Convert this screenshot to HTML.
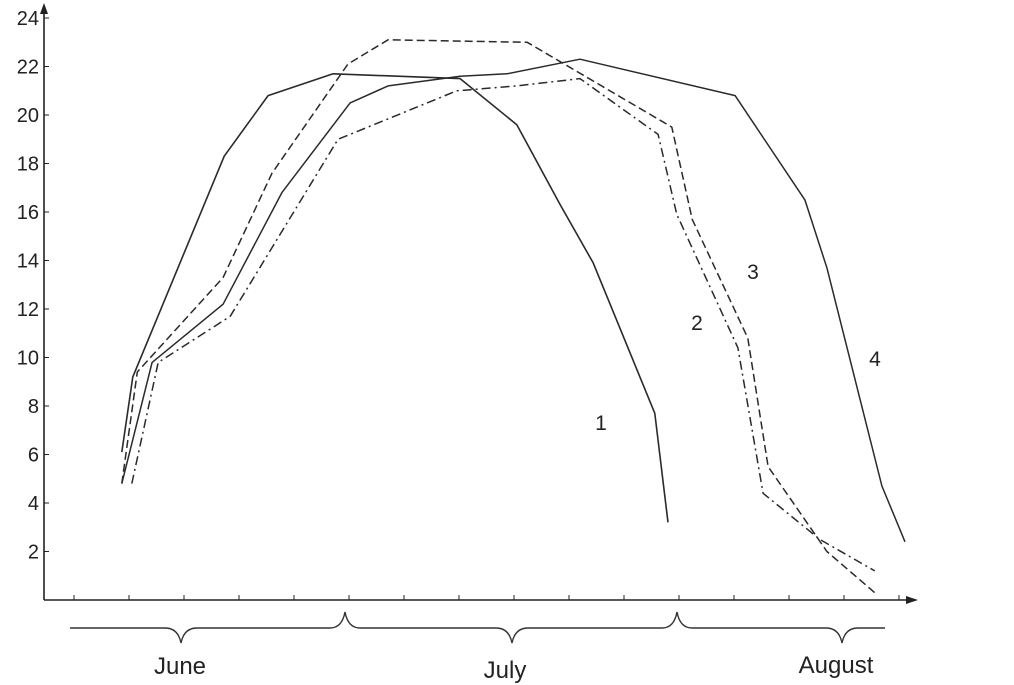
<!DOCTYPE html>
<html><head><meta charset="utf-8"><style>
html,body{margin:0;padding:0;background:#fff}
svg{display:block;font-family:"Liberation Sans",Arial,sans-serif}
</style></head><body>
<svg id="chart" width="1014" height="685" viewBox="0 0 1014 685" xmlns="http://www.w3.org/2000/svg">
<g id="axes"></g>
<g id="series"></g>
<g id="months"></g>
</svg>
<script>
const yTicks=[2,4,6,8,10,12,14,16,18,20,22,24];
const xTickCount=16;
const c1T=[0.87,1.07,2.73,3.53,4.71,7.02,8.05,8.84,9.44,10.56,10.8];
const c1V=[6.1,9.2,18.3,20.8,21.7,21.5,19.6,16.3,13.9,7.7,3.2];
const c2T=[1.05,1.53,2.84,4.8,6.96,8.05,9.2,10.62,10.96,12.07,12.53,13.56,14.56];
const c2V=[4.8,9.8,11.7,19.0,21.0,21.2,21.5,19.2,15.9,10.4,4.4,2.5,1.2];
const c3T=[0.87,1.15,2.71,3.6,4.98,5.71,8.24,10.87,11.24,12.25,12.62,13.69,14.56];
const c3V=[4.8,9.4,13.3,17.6,22.1,23.1,23.0,19.5,15.7,10.8,5.5,2.0,0.3];
const c4T=[0.87,1.42,2.71,3.78,5.02,5.71,7.02,7.87,9.2,12.02,13.29,13.69,14.69,15.11];
const c4V=[4.8,9.8,12.2,16.8,20.5,21.2,21.6,21.7,22.3,20.8,16.5,13.7,4.7,2.4];
const seriesLabels=["1","2","3","4"];
const months=["June","July","August"];

const NS="http://www.w3.org/2000/svg";
const X=t=>74+55*t;
const Y=v=>600-24.25*v;
function mk(tag,attrs,parent){const e=document.createElementNS(NS,tag);for(const k in attrs)e.setAttribute(k,attrs[k]);parent.appendChild(e);return e;}
const axes=document.getElementById('axes');
let e;
e=mk('line',{x1:44,y1:600,x2:44,y2:10,stroke:'#222','stroke-width':1.6},axes);


e=mk('path',{d:'M44,3 L40,14 L48,14 Z',fill:'#222'},axes);


e=mk('line',{x1:44,y1:600,x2:910,y2:600,stroke:'#222','stroke-width':1.6},axes);


e=mk('path',{d:'M918,600 L906,596 L906,604 Z',fill:'#222'},axes);


yTicks.forEach(v=>{
  e=mk('line',{x1:44,y1:Y(v),x2:49,y2:Y(v),stroke:'#222','stroke-width':1},axes);
  
  
  e=mk('text',{x:39,y:Y(v)+7,'text-anchor':'end','font-size':20,fill:'#222'},axes);
  e.textContent=v;
  
  
});
for(let i=0;i<xTickCount;i++){
  e=mk('line',{x1:X(i),y1:595,x2:X(i),y2:600,stroke:'#222','stroke-width':1},axes);
  
  
}
const ser=document.getElementById('series');
const defs=[[c1T,c1V,'',1.6,'series-1'],[c2T,c2V,'9 4 2 4',1.5,'series-2'],[c3T,c3V,'8 4',1.5,'series-3'],[c4T,c4V,'',1.5,'series-4']];
defs.forEach(d=>{
  const pts=d[0].map((t,i)=>X(t).toFixed(1)+','+Y(d[1][i]).toFixed(1)).join(' ');
  const a={points:pts,fill:'none',stroke:'#2a2a2a','stroke-width':d[3],'stroke-linejoin':'round'};
  if(d[2])a['stroke-dasharray']=d[2];
  e=mk('polyline',a,ser);
  
  
});
const lblPos=[[601,430],[697,330],[753,279],[875,366]];
seriesLabels.forEach((s,i)=>{
  e=mk('text',{x:lblPos[i][0],y:lblPos[i][1],'text-anchor':'middle','font-size':21,fill:'#222'},ser);
  e.textContent=s;
  
  
});
const mg=document.getElementById('months');
e=mk('path',{d:'M70,628 L165,628 Q178,628 181,643 Q184,628 197,628 L330,628 Q342,628 345,612 Q348,628 360,628 L496,628 Q509,628 512,643 Q515,628 528,628 L662,628 Q674,628 677,612 Q680,628 692,628 L826,628 Q839,628 842,643 Q845,628 858,628 L885,628',fill:'none',stroke:'#333','stroke-width':1.4},mg);


const mpos=[[180,674],[505,678],[836,673]];
months.forEach((m,i)=>{
  e=mk('text',{x:mpos[i][0],y:mpos[i][1],'text-anchor':'middle','font-size':24,fill:'#222'},mg);
  e.textContent=m;
  
  
});
</script>
</body></html>
